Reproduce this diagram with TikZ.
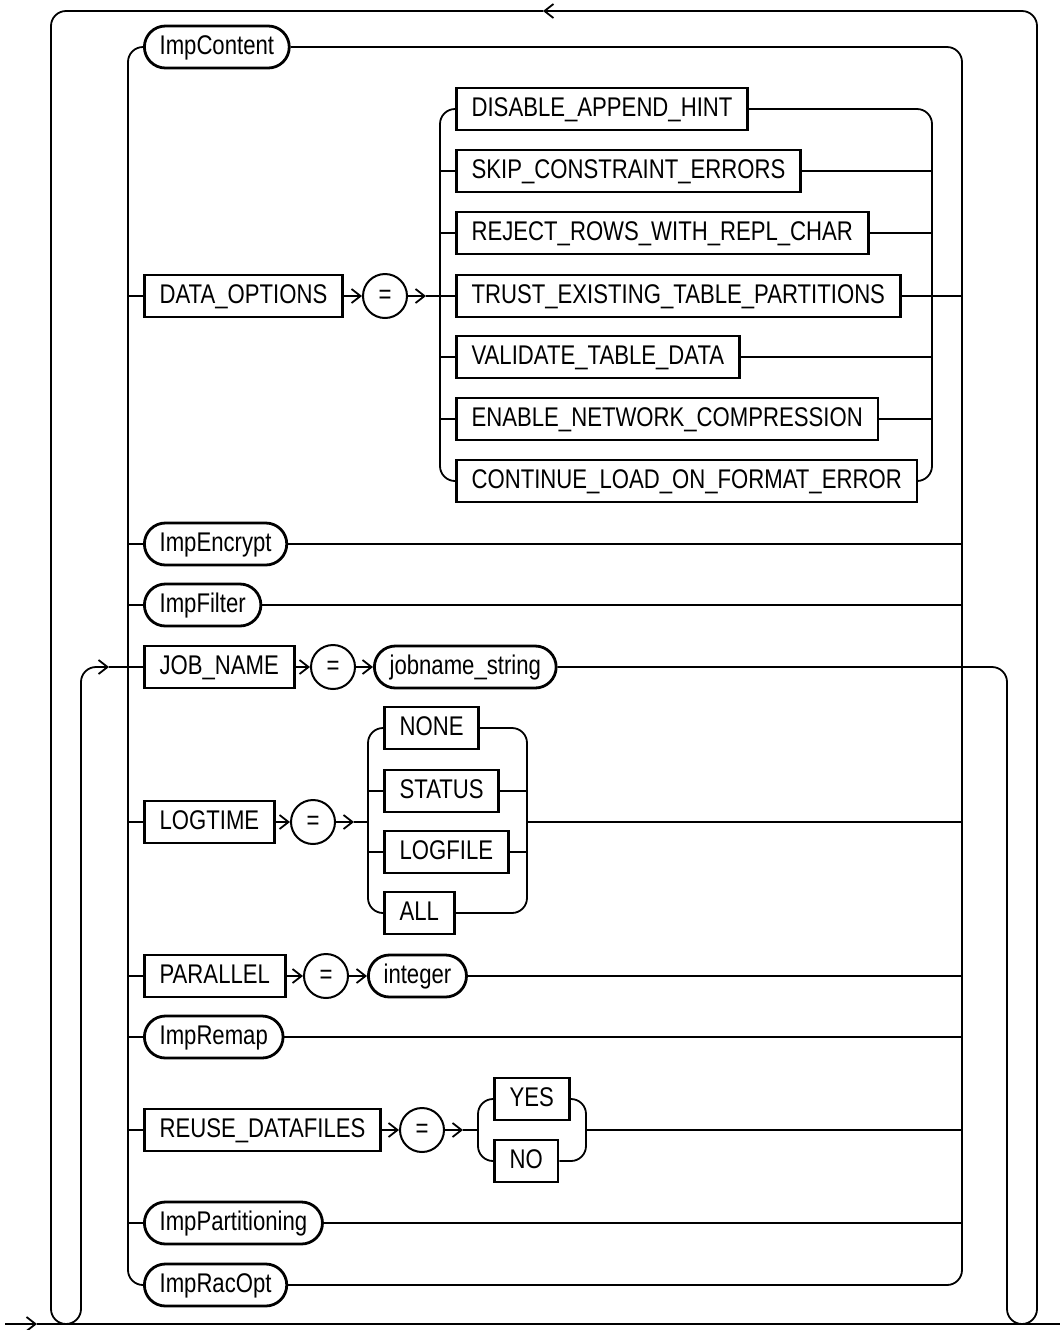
\documentclass[tikz,border=0pt]{standalone}
\usepackage{fontspec}
\setmainfont{Liberation Sans}[FakeStretch=0.82]
\usepackage{tikz}
\usetikzlibrary{arrows.meta}

\begin{document}
\begin{tikzpicture}[x=0.5pt, y=-0.5pt, line width=0.9pt,
  >={Straight Barb[length=4.5pt,width=7pt]},
  every node/.style={font=\fontsize{13.5}{15}\selectfont, text height=9.8pt, text depth=2.4pt, inner xsep=7.6pt, inner ysep=0pt, minimum height=21pt},
  kw/.style={draw, line width=1.4pt, anchor=west},
  ref/.style={draw, line width=1.4pt, rounded corners=10.5pt, anchor=west},
  eq/.style={draw, circle, line width=1pt, minimum size=22pt, inner sep=0pt}]
\useasboundingbox (0,0) rectangle (1060,1330);
\coordinate (inL) at (128,0);
\coordinate (inR) at (962,0);
\coordinate (optL) at (440,0);
\coordinate (optR) at (932,0);
\coordinate (logL) at (368,0);
\coordinate (logR) at (527,0);
\coordinate (reuL) at (478,0);
\coordinate (reuR) at (586,0);
\coordinate (backL) at (81,0);
\coordinate (backR) at (1007,0);
\coordinate (loopL) at (51,11);
\coordinate (loopR) at (1037,11);
\coordinate (looparr) at (543,11);
\coordinate (mainin) at (5,1324);
\coordinate (mainout) at (1060,1324);

\node[ref] (impcontent) at (143,47) {ImpContent};
\node[kw] (dataopt) at (143,296) {DATA\_OPTIONS};
\node[eq] (dataeq) at (385,296) {=};
\node[kw] (disable) at (455,109) {DISABLE\_APPEND\_HINT};
\node[kw] (skip) at (455,171) {SKIP\_CONSTRAINT\_ERRORS};
\node[kw] (reject) at (455,233) {REJECT\_ROWS\_WITH\_REPL\_CHAR};
\node[kw] (trust) at (455,296) {TRUST\_EXISTING\_TABLE\_PARTITIONS};
\node[kw] (validate) at (455,357) {VALIDATE\_TABLE\_DATA};
\node[kw] (enable) at (455,419) {ENABLE\_NETWORK\_COMPRESSION};
\node[kw] (continue) at (455,481) {CONTINUE\_LOAD\_ON\_FORMAT\_ERROR};
\node[ref] (impencrypt) at (143,544) {ImpEncrypt};
\node[ref] (impfilter) at (143,605) {ImpFilter};
\node[kw] (jobname) at (143,667) {JOB\_NAME};
\node[eq] (jobeq) at (333,667) {=};
\node[ref] (jobstr) at (373,667) {jobname\_string};
\node[kw] (logtime) at (143,822) {LOGTIME};
\node[eq] (logeq) at (313,822) {=};
\node[kw] (none) at (383,728) {NONE};
\node[kw] (status) at (383,791) {STATUS};
\node[kw] (logfile) at (383,852) {LOGFILE};
\node[kw] (all) at (383,913) {ALL};
\node[kw] (parallel) at (143,976) {PARALLEL};
\node[eq] (pareq) at (326,976) {=};
\node[ref] (integer) at (367,976) {integer};
\node[ref] (impremap) at (143,1037) {ImpRemap};
\node[kw] (reuse) at (143,1130) {REUSE\_DATAFILES};
\node[eq] (reuseeq) at (422,1130) {=};
\node[kw] (yes) at (493,1099) {YES};
\node[kw] (no) at (493,1161) {NO};
\node[ref] (imppart) at (143,1223) {ImpPartitioning};
\node[ref] (impracopt) at (143,1285) {ImpRacOpt};

\draw[rounded corners=7.5pt] (impcontent.west) -- (inL |- impcontent.west) -- (inL |- impracopt.west) -- (impracopt.west);
\draw[rounded corners=7.5pt] (impcontent.east) -- (inR |- impcontent.east) -- (inR |- impracopt.east) -- (impracopt.east);
\foreach \n in {dataopt,impencrypt,impfilter,logtime,parallel,impremap,reuse,imppart}
  \draw (inL |- \n.west) -- (\n.west);
\foreach \n in {trust,impencrypt,impfilter,integer,impremap,imppart}
  \draw (\n.east) -- (inR |- \n.east);

\draw[->] (dataopt.east) -- (dataeq.west);
\draw[->] (dataeq.east) -- ++(18,0) coordinate (dataarr);
\draw (dataarr) -- (trust.west);
\draw[rounded corners=7.5pt] (disable.west) -- (optL |- disable.west) -- (optL |- continue.west) -- (continue.west);
\draw[rounded corners=7.5pt] (disable.east) -- (optR |- disable.east) -- (optR |- continue.east) -- (continue.east);
\foreach \n in {skip,reject,validate,enable} {
  \draw (optL |- \n.west) -- (\n.west);
  \draw (\n.east) -- (optR |- \n.east);
}

\draw[->] (jobname.east) -- (jobeq.west);
\draw[->] (jobeq.east) -- (jobstr.west);
\draw[rounded corners=7.5pt, ->] (jobstr.east) -- (backR |- jobstr.east) -- (backR |- mainout) -- (loopR |- mainout) -- (loopR) -- (looparr);
\draw[rounded corners=7.5pt, ->] (looparr) -- (loopL) -- (loopL |- mainin) -- (backL |- mainin) -- (backL |- jobname.west) -- ++(28,0) coordinate (jobarr);
\draw (jobarr) -- (jobname.west);

\draw[->] (logtime.east) -- (logeq.west);
\draw[->] (logeq.east) -- ++(18,0) coordinate (logarr);
\draw (logarr) -- (logL |- logarr);
\draw[rounded corners=7.5pt] (none.west) -- (logL |- none.west) -- (logL |- all.west) -- (all.west);
\draw[rounded corners=7.5pt] (none.east) -- (logR |- none.east) -- (logR |- all.east) -- (all.east);
\foreach \n in {status,logfile} {
  \draw (logL |- \n.west) -- (\n.west);
  \draw (\n.east) -- (logR |- \n.east);
}
\draw (logR |- logarr) -- (inR |- logarr);

\draw[->] (parallel.east) -- (pareq.west);
\draw[->] (pareq.east) -- (integer.west);

\draw[->] (reuse.east) -- (reuseeq.west);
\draw[->] (reuseeq.east) -- ++(18,0) coordinate (reuarr);
\draw (reuarr) -- (reuL |- reuarr);
\draw[rounded corners=7.5pt] (yes.west) -- (reuL |- yes.west) -- (reuL |- no.west) -- (no.west);
\draw[rounded corners=7.5pt] (yes.east) -- (reuR |- yes.east) -- (reuR |- no.east) -- (no.east);
\draw (reuR |- reuarr) -- (inR |- reuarr);

\draw[->] (mainin) -- ++(32,0) coordinate (mainarr);
\draw (mainarr) -- (mainout);
\end{tikzpicture}
\end{document}
